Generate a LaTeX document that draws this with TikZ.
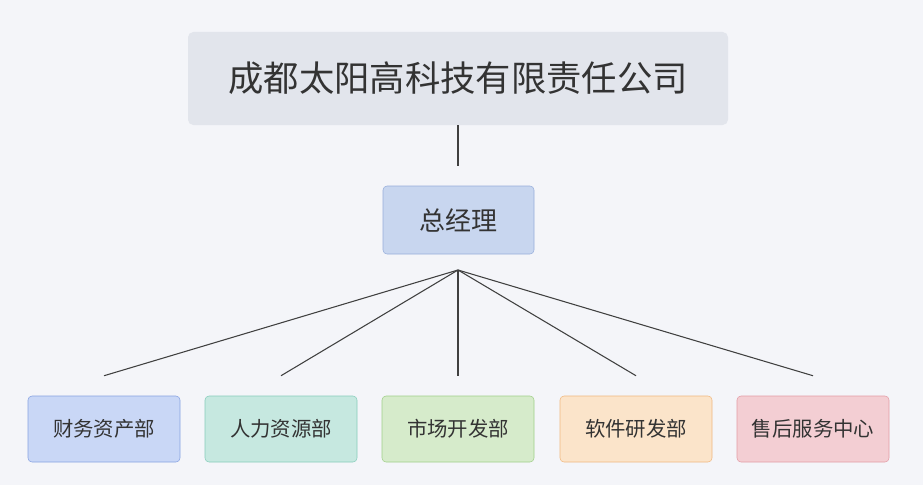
\documentclass[tikz,border=0pt]{standalone}
\usepackage{fontspec}
\newfontfamily\cjk{Noto Sans CJK SC}
\definecolor{bggray}{HTML}{F4F5F9}
\definecolor{topfill}{HTML}{E2E5EC}
\definecolor{ceofill}{HTML}{C8D6EF}
\definecolor{ceoline}{HTML}{97AEDB}
\definecolor{bluefill}{HTML}{C9D7F6}
\definecolor{blueline}{HTML}{86A2E2}
\definecolor{tealfill}{HTML}{C6E8E0}
\definecolor{tealline}{HTML}{86CDBB}
\definecolor{greenfill}{HTML}{D6EBCB}
\definecolor{greenline}{HTML}{A0CF88}
\definecolor{orangefill}{HTML}{FBE4CA}
\definecolor{orangeline}{HTML}{F1B87F}
\definecolor{pinkfill}{HTML}{F3CED3}
\definecolor{pinkline}{HTML}{E39CA5}
\def\s{0.75}
\def\punkt#1#2{({(#1)*\s pt},{-(#2)*\s pt})}
\tikzset{
  dept/.style={draw=#1line,fill=#1fill,rounded corners=3pt,minimum width={152*\s pt},
    minimum height={66*\s pt},font=\cjk\fontsize{15.3}{18}\selectfont,text=black!80},
  link/.style={draw=black!75,line width=0.8pt}
}
\begin{document}
\begin{tikzpicture}
\fill[bggray] \punkt{0}{0} rectangle \punkt{923}{485};
\node[fill=topfill,rounded corners=4pt,minimum width={540*\s pt},minimum height={93*\s pt},
  font=\cjk\fontsize{26.5}{30}\selectfont,text=black!80] (company) at \punkt{458}{78.5} {成都太阳高科技有限责任公司};
\node[draw=ceoline,fill=ceofill,rounded corners=3pt,minimum width={151*\s pt},minimum height={68*\s pt},
  font=\cjk\fontsize{19.5}{22}\selectfont,text=black!80] (ceo) at \punkt{458.5}{220} {总经理};
\path \punkt{458}{166} coordinate (stem);
\path \punkt{458}{270} coordinate (hub);
\node[dept=blue]   (finance) at \punkt{104}{429} {财务资产部};
\node[dept=teal]   (hr)      at \punkt{281}{429} {人力资源部};
\node[dept=green]  (market)  at \punkt{458}{429} {市场开发部};
\node[dept=orange] (rnd)     at \punkt{636}{429} {软件研发部};
\node[dept=pink]   (service) at \punkt{813}{429} {售后服务中心};
\draw[link] (company.south) -- (stem);
\foreach \d in {finance,hr,market,rnd,service}{
  \draw[link] (hub) -- ([yshift=20*\s pt]\d.north);
}
\end{tikzpicture}
\end{document}
